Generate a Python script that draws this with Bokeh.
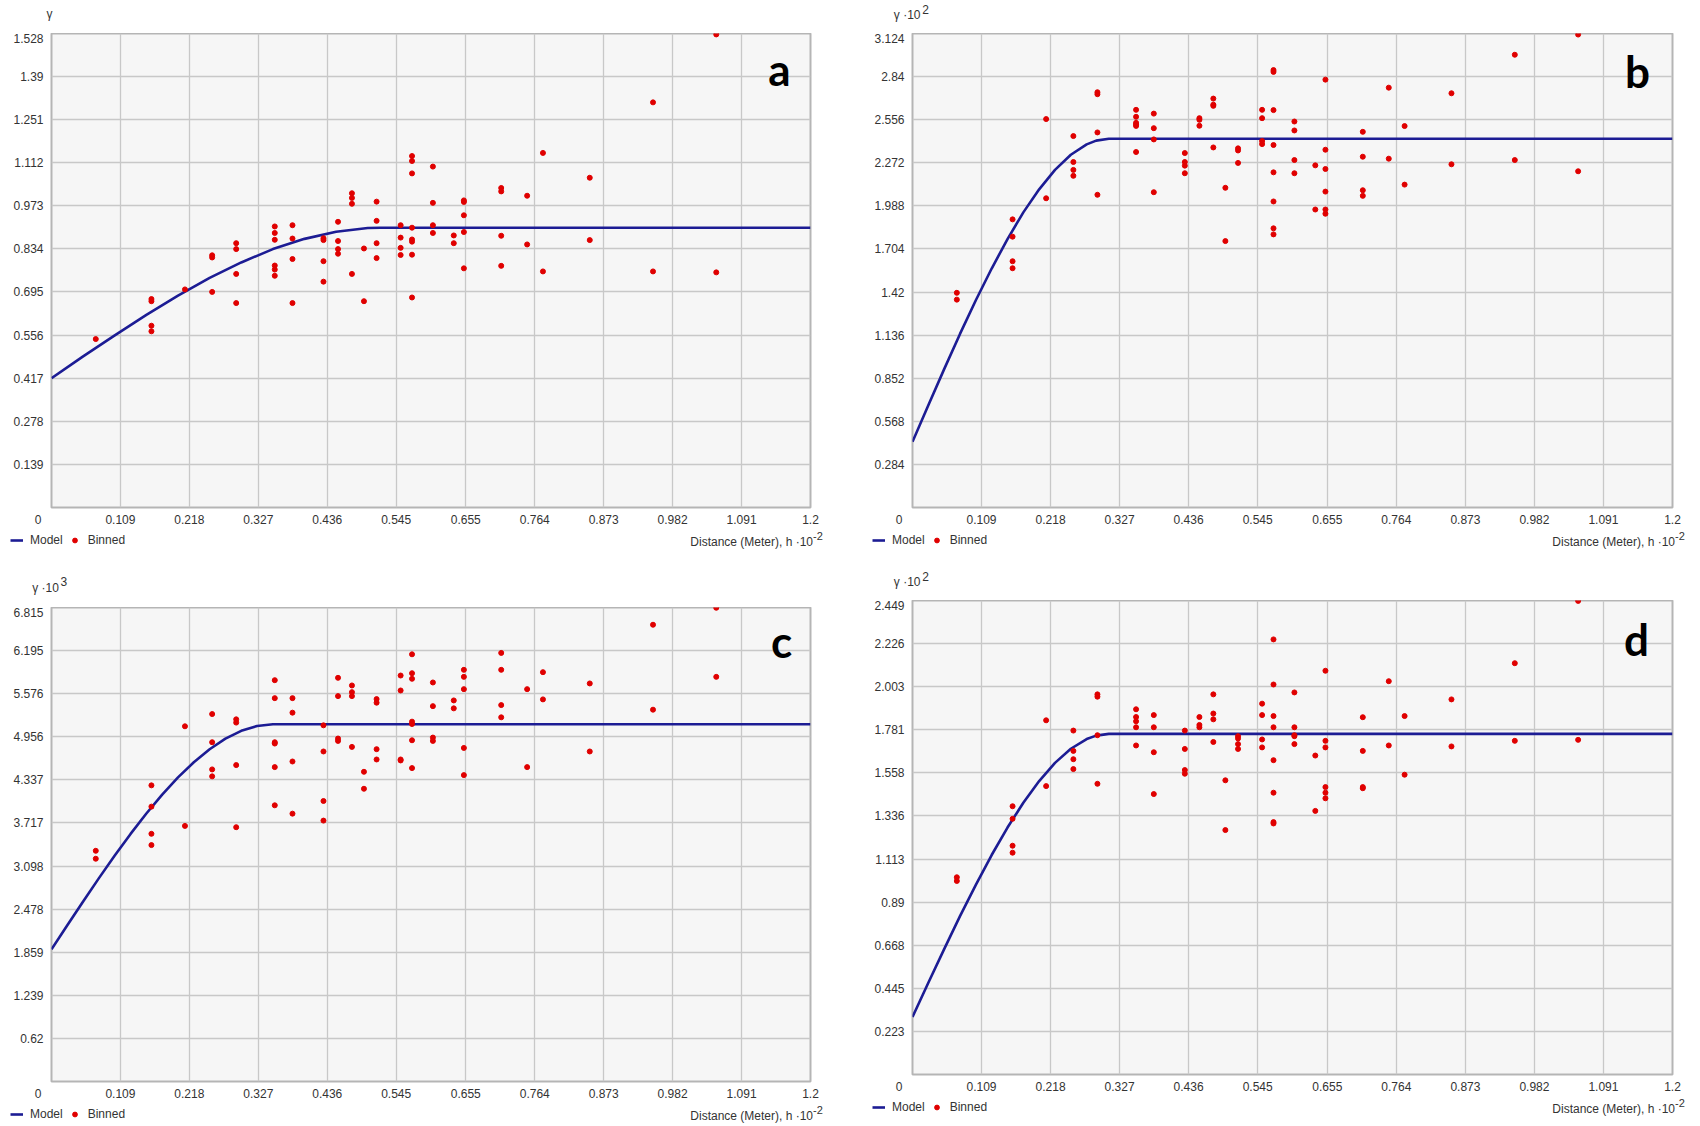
from bokeh.plotting import figure
from bokeh.models import Range1d, Label, Legend, LegendItem, FixedTicker
from bokeh.layouts import column, row
from bokeh.embed import file_html
from bokeh.resources import INLINE

# ---------------- data ----------------
x_tick_labels = ["0", "0.109", "0.218", "0.327", "0.436", "0.545", "0.655", "0.764",
                 "0.873", "0.982", "1.091", "1.2"]
a_y_tick_labels = ["0.139", "0.278", "0.417", "0.556", "0.695", "0.834", "0.973",
                   "1.112", "1.251", "1.39", "1.528"]
b_y_tick_labels = ["0.284", "0.568", "0.852", "1.136", "1.42", "1.704", "1.988",
                   "2.272", "2.556", "2.84", "3.124"]
c_y_tick_labels = ["0.62", "1.239", "1.859", "2.478", "3.098", "3.717", "4.337",
                   "4.956", "5.576", "6.195", "6.815"]
d_y_tick_labels = ["0.223", "0.445", "0.668", "0.89", "1.113", "1.336", "1.558",
                   "1.781", "2.003", "2.226", "2.449"]

lags = [0.070, 0.158, 0.211, 0.254, 0.292, 0.353, 0.381, 0.430, 0.453, 0.475, 0.494,
        0.514, 0.552, 0.570, 0.603, 0.636, 0.652, 0.711, 0.752, 0.777, 0.851, 0.951, 1.051]

a_gamma = [[0.543], [0.672, 0.665, 0.586, 0.568], [0.703], [0.813, 0.806, 0.695],
           [0.852, 0.833, 0.753, 0.659], [0.906, 0.885, 0.863, 0.780, 0.767, 0.747],
           [0.910, 0.867, 0.801, 0.659], [0.868, 0.862, 0.794, 0.728],
           [0.921, 0.859, 0.833, 0.818], [1.013, 0.998, 0.979, 0.753], [0.835, 0.665],
           [0.986, 0.924, 0.852, 0.804], [0.910, 0.870, 0.837, 0.814],
           [1.133, 1.117, 1.077, 0.902, 0.864, 0.857, 0.815, 0.677],
           [1.099, 0.982, 0.910, 0.885], [0.877, 0.852], [0.990, 0.985, 0.942, 0.888, 0.771],
           [1.030, 1.019, 0.876, 0.779], [1.005, 0.848], [1.143, 0.761], [1.063, 0.862],
           [1.306, 0.761], [1.525, 0.758]]
b_gamma = [[1.415, 1.370], [1.899, 1.785, 1.623, 1.577], [2.560, 2.038],
           [2.448, 2.277, 2.225, 2.186], [2.737, 2.724, 2.472, 2.061],
           [2.621, 2.575, 2.535, 2.525, 2.515, 2.343], [2.596, 2.500, 2.426, 2.078],
           [2.336, 2.277, 2.253, 2.203], [2.566, 2.555, 2.516], [2.695, 2.655, 2.647, 2.373],
           [2.107, 1.756], [2.367, 2.353, 2.271], [2.621, 2.566, 2.415, 2.395],
           [2.883, 2.871, 2.619, 2.389, 2.209, 2.017, 1.840, 1.800],
           [2.544, 2.485, 2.290, 2.203], [2.255, 1.964],
           [2.820, 2.358, 2.231, 2.082, 1.964, 1.936], [2.476, 2.312, 2.091, 2.054],
           [2.767, 2.299], [2.514, 2.128], [2.730, 2.262], [2.984, 2.290], [3.117, 2.216]]
c_gamma = [[3.317, 3.203], [4.258, 3.952, 3.561, 3.399], [5.107, 3.675],
           [5.283, 4.878, 4.487, 4.387], [5.207, 5.160, 4.549, 3.656],
           [5.770, 5.512, 4.878, 4.859, 4.520, 3.971], [5.512, 5.303, 4.601, 3.851],
           [5.121, 4.745, 4.033, 3.751], [5.804, 5.541, 4.931, 4.897],
           [5.694, 5.598, 5.541, 4.811], [4.453, 4.209], [5.498, 5.446, 4.778, 4.630],
           [5.837, 5.622, 4.630, 4.616], [6.142, 5.870, 5.790, 5.174, 5.140, 4.906, 4.506],
           [5.737, 5.397, 4.945, 4.897], [5.479, 5.365], [5.919, 5.818, 5.641, 4.796, 4.405],
           [6.162, 5.919, 5.412, 5.236], [5.641, 4.520], [5.885, 5.494], [5.723, 4.745],
           [6.567, 5.346], [6.811, 5.818]]
d_gamma = [[1.019, 1.000], [1.386, 1.321, 1.182, 1.146], [1.830, 1.490],
           [1.777, 1.672, 1.629, 1.578], [1.964, 1.952, 1.753, 1.502],
           [1.887, 1.847, 1.825, 1.794, 1.700], [1.857, 1.794, 1.665, 1.449],
           [1.777, 1.682, 1.573, 1.554], [1.847, 1.806, 1.794], [1.964, 1.865, 1.835, 1.718],
           [1.520, 1.263], [1.748, 1.736, 1.707, 1.682], [1.916, 1.857, 1.731, 1.690],
           [2.248, 2.015, 1.852, 1.794, 1.624, 1.456, 1.304, 1.297],
           [1.974, 1.794, 1.753, 1.748, 1.707], [1.648, 1.362],
           [2.086, 1.724, 1.690, 1.485, 1.456, 1.427], [1.846, 1.672, 1.485, 1.479],
           [2.032, 1.700], [1.852, 1.549], [1.938, 1.695], [2.125, 1.724], [2.447, 1.729]]

a_model_x = [0, 0.05, 0.1, 0.15, 0.2, 0.25, 0.3, 0.35, 0.4, 0.45, 0.5, 0.52, 1.2]
a_model_y = [0.417, 0.487, 0.555, 0.621, 0.683, 0.740, 0.790, 0.833, 0.866, 0.889, 0.901, 0.902, 0.902]
b_model_x = [0, 0.025, 0.05, 0.075, 0.1, 0.125, 0.15, 0.175, 0.2, 0.225, 0.25, 0.275, 0.29, 0.31, 1.2]
b_model_y = [0.433, 0.674, 0.912, 1.144, 1.366, 1.575, 1.769, 1.945, 2.097, 2.225, 2.325, 2.393, 2.418, 2.430, 2.430]
c_model_x = [0, 0.025, 0.05, 0.075, 0.1, 0.125, 0.15, 0.175, 0.2, 0.225, 0.25, 0.275, 0.3, 0.325, 0.35, 1.2]
c_model_y = [1.900, 2.246, 2.589, 2.924, 3.249, 3.560, 3.853, 4.125, 4.372, 4.590, 4.777, 4.929, 5.042, 5.112, 5.136, 5.136]
d_model_x = [0, 0.025, 0.05, 0.075, 0.1, 0.125, 0.15, 0.175, 0.2, 0.225, 0.25, 0.275, 0.29, 0.31, 1.2]
d_model_y = [0.297, 0.474, 0.648, 0.818, 0.980, 1.134, 1.276, 1.404, 1.516, 1.610, 1.683, 1.733, 1.751, 1.760, 1.760]

X_MAX = 1.2
TXT = "#333333"
FONT = "Liberation Sans"
LINE_COLOR = "#1c1c94"
DOT_COLOR = "#e00000"
W = 850


def strip(h):
    s = figure(width=W, height=h, x_range=Range1d(0, W), y_range=Range1d(0, h),
               x_axis_type=None, y_axis_type=None, output_backend="svg",
               toolbar_location=None, min_border=0, min_border_left=0,
               min_border_right=0, min_border_top=0, min_border_bottom=0,
               frame_align=False)
    s.outline_line_color = None
    s.background_fill_color = "white"
    s.border_fill_color = "white"
    return s


def txt(p, x, y, text, align="left", size="12px"):
    p.add_layout(Label(x=x, y=y, text=text, text_align=align, text_baseline="middle",
                       text_font=FONT, text_font_size=size, text_color=TXT))


def top_strip(h, ytitle, ysup, tx, ty, sx, sy):
    s = strip(h)
    txt(s, tx, h - ty, ytitle)
    if ysup:
        txt(s, sx, h - sy, ysup)
    return s


def bottom_strip(h, leg_x, leg_bottom, title_x, title_cy, sup_cy):
    s = strip(h)
    # legend proxies, placed outside the strip's visible range
    lr = s.line([-60, -40], [-60, -60], line_color=LINE_COLOR, line_width=2.6)
    sr = s.scatter([-60], [-60], marker="circle", size=5,
                   fill_color=DOT_COLOR, line_color=DOT_COLOR)
    legend = Legend(items=[LegendItem(label="Model", renderers=[lr]),
                           LegendItem(label="Binned", renderers=[sr])],
                    location=(leg_x, h - leg_bottom), orientation="horizontal",
                    glyph_width=13, glyph_height=12, label_height=12,
                    label_standoff=7, spacing=5, padding=0, margin=0,
                    border_line_color=None, background_fill_alpha=0,
                    label_text_font=FONT, label_text_font_size="12px",
                    label_text_color=TXT)
    s.add_layout(legend)
    txt(s, title_x, h - title_cy, "Distance (Meter), h \u00b710", align="right")
    txt(s, title_x, h - sup_cy, "-2", align="left", size="11px")
    return s


def main_panel(letter, ylabels, gammas, mx, my, h, left, right, bottom, letter_off):
    ymax = float(ylabels[-1])
    p = figure(width=W, height=h, x_range=Range1d(0, X_MAX), y_range=Range1d(0, ymax),
               output_backend="svg", toolbar_location=None,
               min_border_left=left, min_border_right=right,
               min_border_top=0, min_border_bottom=bottom, frame_align=False)
    p.background_fill_color = "#f6f6f6"
    p.border_fill_color = "white"
    p.outline_line_color = "#b5b5b5"
    p.outline_line_width = 2

    xt = [float(s) for s in x_tick_labels]
    yt = [float(s) for s in ylabels]
    p.xaxis.ticker = FixedTicker(ticks=xt)
    p.yaxis.ticker = FixedTicker(ticks=yt)
    p.xgrid.ticker = FixedTicker(ticks=xt)
    p.ygrid.ticker = FixedTicker(ticks=yt)
    # the corner "0" sits left of the origin, as in the reference
    xover = {t: s for t, s in zip(xt, x_tick_labels)}
    xover[0.0] = "0" + "\u00a0" * 8
    p.xaxis.major_label_overrides = xover
    p.yaxis.major_label_overrides = {t: s for t, s in zip(yt, ylabels)}
    for ax in (p.xaxis[0], p.yaxis[0]):
        ax.axis_line_color = None
        ax.major_tick_line_color = None
        ax.minor_tick_line_color = None
        ax.major_tick_out = 0
        ax.major_tick_in = 0
        ax.major_label_text_font = FONT
        ax.major_label_text_font_size = "12px"
        ax.major_label_text_color = TXT
    p.xaxis.major_label_standoff = 5
    p.yaxis.major_label_standoff = 8
    for g in (p.xgrid[0], p.ygrid[0]):
        g.grid_line_color = "#c8c8c8"
        g.grid_line_width = 1.3

    bx = [lag for lag, vals in zip(lags, gammas) for _ in vals]
    by = [v for vals in gammas for v in vals]
    p.line(mx, my, line_color=LINE_COLOR, line_width=2.6)
    p.scatter(bx, by, marker="circle", size=5, fill_color=DOT_COLOR, line_color=DOT_COLOR)

    lx, ly = letter_off
    p.add_layout(Label(x=X_MAX, y=ymax, x_offset=-lx, y_offset=-ly, text=letter,
                       text_align="center", text_baseline="middle",
                       text_font="Lato", text_font_style="bold",
                       text_font_size="44px", text_color="black"))
    return p


# left column (a, c)
a_top = top_strip(33, "\u03b3", None, 46, 13, 0, 0)
a_main = main_panel("a", a_y_tick_labels, a_gamma, a_model_x, a_model_y, 496, 51, 40, 20, (31, 35))
a_bot = bottom_strip(39, 10, 18, 812.5, 12, 6)
c_top = top_strip(39, "\u03b3 \u00b710", "3", 31.7, 19, 60, 13)
c_main = main_panel("c", c_y_tick_labels, c_gamma, c_model_x, c_model_y, 496, 51, 40, 20, (29, 33))
c_bot = bottom_strip(21, 10, 18, 812.5, 12, 6)

# right column (b, d)
b_top = top_strip(33, "\u03b3 \u00b710", "2", 43.3, 14, 71.7, 9)
b_main = main_panel("b", b_y_tick_labels, b_gamma, b_model_x, b_model_y, 496, 62, 28, 20, (35, 37))
b_bot = bottom_strip(39, 22, 18, 824.5, 12, 6)
d_top = top_strip(32, "\u03b3 \u00b710", "2", 43.3, 13, 71.7, 8)
d_main = main_panel("d", d_y_tick_labels, d_gamma, d_model_x, d_model_y, 496, 62, 28, 20, (36, 38))
d_bot = bottom_strip(28, 22, 18, 824.5, 12, 6)

layout = row(column(a_top, a_main, a_bot, c_top, c_main, c_bot),
             column(b_top, b_main, b_bot, d_top, d_main, d_bot))
open("out.html", "w").write(file_html(layout, INLINE))
